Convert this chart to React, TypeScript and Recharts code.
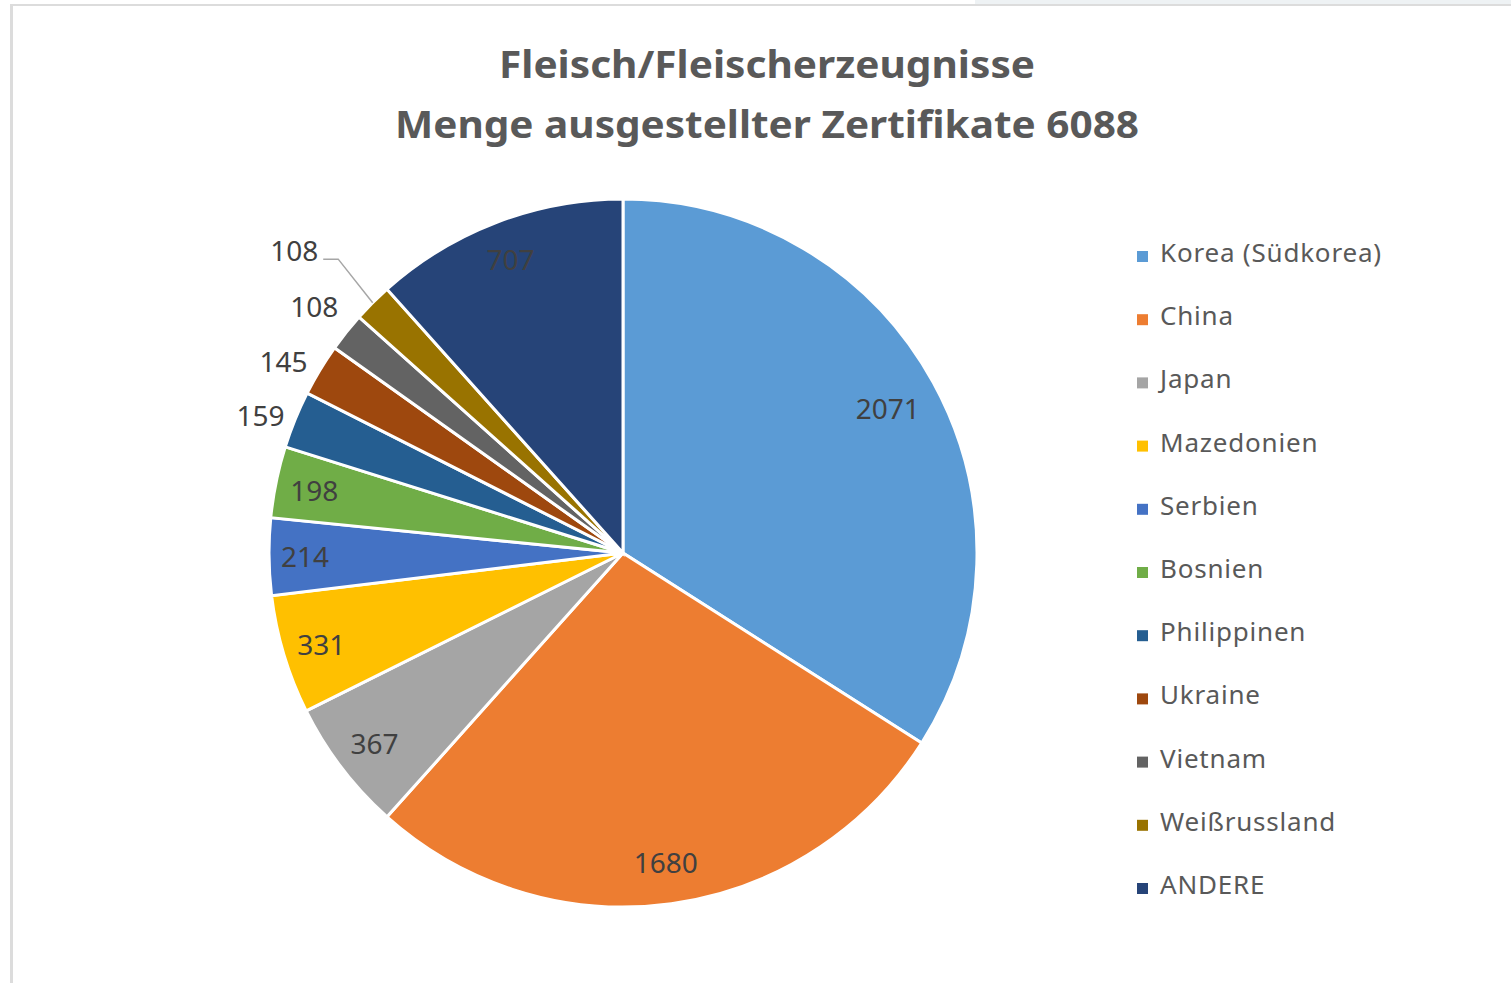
import React from 'react';
import { PieChart, Pie, Cell, Legend } from 'recharts';

const categories = ['Korea (Südkorea)', 'China', 'Japan', 'Mazedonien', 'Serbien', 'Bosnien', 'Philippinen', 'Ukraine', 'Vietnam', 'Weißrussland', 'ANDERE'];
const values = [2071, 1680, 367, 331, 214, 198, 159, 145, 108, 108, 707];
const colors = ['#5B9BD5', '#ED7D31', '#A5A5A5', '#FFC000', '#4472C4', '#70AD47', '#255E91', '#9E480E', '#636363', '#997300', '#264478'];
const titleLines = ['Fleisch/Fleischerzeugnisse', 'Menge ausgestellter Zertifikate 6088'];

// label distance from center (fraction of outer radius) and small angular nudge (degrees)
const labelRadius = [0.853, 0.881, 0.883, 0.89, 0.898, 0.89, 1.096, 1.102, 1.116, 1.156, 0.89];
const labelAngleShift = [0, 0, 0, 0, 0, 0, 1.3, 1.6, 0, -0.9, 0];

const data = categories.map((name, i) => ({ name, value: values[i] }));

const FONT = "'Noto Sans', 'Open Sans', sans-serif";
const RAD = Math.PI / 180;

const renderLabel = (props: any) => {
  const { cx, cy, midAngle, outerRadius, index, value } = props;
  const r = outerRadius * labelRadius[index];
  const a = midAngle + labelAngleShift[index];
  const x = cx + r * Math.cos(-a * RAD);
  const y = cy + r * Math.sin(-a * RAD);
  if (index === 9) {
    const ex = cx + outerRadius * Math.cos(-midAngle * RAD);
    const ey = cy + outerRadius * Math.sin(-midAngle * RAD);
    return (
      <g key={`lbl-${index}`}>
        <polyline points={`${ex},${ey} ${x},${y} ${x - 15},${y}`} fill="none" stroke="#A6A6A6" strokeWidth={1.5} />
        <text x={x - 20} y={y - 9} textAnchor="end" dominantBaseline="central" fill="#404040" fontSize={28} fontFamily={FONT}>{value}</text>
      </g>
    );
  }
  return (
    <text key={`lbl-${index}`} x={x} y={y} textAnchor="middle" dominantBaseline="central" fill="#404040" fontSize={28} fontFamily={FONT}>{value}</text>
  );
};

const renderLegend = () => (
  <svg width={330} height={700} style={{ display: 'block' }}>
    {categories.map((c, i) => {
      const cyRow = 20 + i * 63.2;
      return (
        <g key={c}>
          <rect x={12} y={cyRow - 4} width={11} height={11} fill={colors[i]} />
          <text x={35} y={cyRow + 7} fill="#595959" fontSize={26} letterSpacing={0.8} fontFamily={FONT}>{c}</text>
        </g>
      );
    })}
  </svg>
);

export default function App() {
  return (
    <div style={{ position: 'fixed', left: 0, top: 0, width: 1511, height: 983, overflow: 'hidden', background: '#ffffff' }}>
      <div style={{ position: 'absolute', left: 975, top: 0, width: 540, height: 4, background: '#EEF2F4' }} />
      <div style={{ position: 'absolute', left: 10, top: 4, width: 1520, height: 1000, borderLeft: '3px solid #DCDCDC', borderTop: '2px solid #DCDCDC' }} />
      <svg width={1511} height={170} style={{ position: 'absolute', left: 0, top: 0 }}>
        <text x={767} y={78} textAnchor="middle" fill="#595959" fontSize={38} fontWeight={700} fontFamily={FONT} textLength={536} lengthAdjust="spacingAndGlyphs">{titleLines[0]}</text>
        <text x={767} y={138} textAnchor="middle" fill="#595959" fontSize={38} fontWeight={700} fontFamily={FONT} textLength={744} lengthAdjust="spacingAndGlyphs">{titleLines[1]}</text>
      </svg>
      <div style={{ position: 'absolute', left: 0, top: 0 }}>
        <PieChart width={1511} height={983} margin={{ top: 0, right: 0, bottom: 0, left: 0 }}>
          <Pie
            data={data}
            dataKey="value"
            nameKey="name"
            cx={623}
            cy={553}
            outerRadius={354}
            startAngle={90}
            endAngle={-270}
            stroke="#ffffff"
            strokeWidth={3}
            label={renderLabel}
            labelLine={false}
            isAnimationActive={false}
          >
            {data.map((d, i) => (
              <Cell key={d.name} fill={colors[i]} />
            ))}
          </Pie>
          <Legend content={renderLegend} wrapperStyle={{ position: 'absolute', left: 1125, top: 235, width: 330, height: 700 }} />
        </PieChart>
      </div>
    </div>
  );
}
